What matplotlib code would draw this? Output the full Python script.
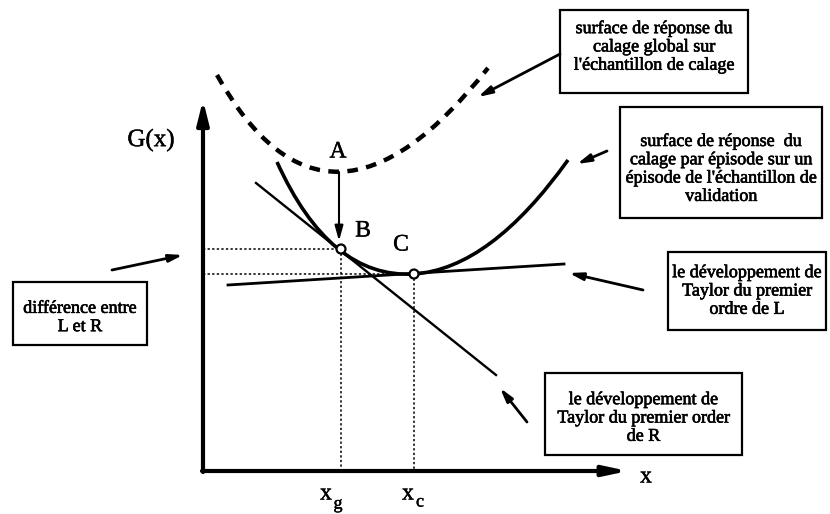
import matplotlib
matplotlib.use("Agg")
import matplotlib.pyplot as plt
from matplotlib.patches import Rectangle, Circle, PathPatch
from matplotlib.path import Path
import matplotlib.patheffects as pe

# ---- data (diagram coordinates) ----
# global-calibration response surface (dashed): quadratic Bezier control points
dashed_x = [217, 327, 488]
dashed_y = [75, 272, 68]

# episode-calibration response surface (solid): two quadratic Bezier pieces through B and C
valid_x = [277, 330, 414, 490, 568]
valid_y = [162, 279, 274, 269, 160]

tangentR_x = [256, 496]
tangentR_y = [183, 375]
tangentL_x = [228, 564]
tangentL_y = [285, 264]

point_B = (341, 249)
point_C = (414, 274)
point_A = (339, 172)

axis_origin = (203, 471)
axis_x_end = 628
axis_y_end = 100

texts_boxes = [
    "surface de réponse du\ncalage global sur\nl'échantillon de calage",
    "surface de réponse  du\ncalage par épisode sur un\népisode de l'échantillon de\nvalidation",
    "le développement de\nTaylor du premier\nordre de L",
    "le développement de\nTaylor du premier order\nde R",
    "différence entre\nL et R",
]

W, H = 830, 514
fig = plt.figure(figsize=(W / 100, H / 100), dpi=100)
ax = fig.add_axes([0, 0, 1, 1])
ax.set_xlim(0, W)
ax.set_ylim(H, 0)
ax.axis("off")

serif = "Liberation Serif"
black = "black"
thick = [pe.withStroke(linewidth=0.45, foreground=black)]

# axes arrows
ax.annotate("", xy=(axis_origin[0], axis_y_end), xytext=(axis_origin[0], axis_origin[1] + 1),
            arrowprops=dict(arrowstyle="-|>,head_length=1.4,head_width=0.35", lw=3, color=black,
                            shrinkA=0, shrinkB=0))
ax.annotate("", xy=(axis_x_end, axis_origin[1]), xytext=(axis_origin[0] - 1, axis_origin[1]),
            arrowprops=dict(arrowstyle="-|>,head_length=1.4,head_width=0.3", lw=3, color=black,
                            shrinkA=0, shrinkB=0))

# curves
dpath = Path(list(zip(dashed_x, dashed_y)), [Path.MOVETO, Path.CURVE3, Path.CURVE3])
ax.add_patch(PathPatch(dpath, facecolor="none", edgecolor=black, lw=3.2, ls=(0, (2.4, 1.9)),
                       capstyle="butt"))
vpath = Path(list(zip(valid_x, valid_y)),
             [Path.MOVETO, Path.CURVE3, Path.CURVE3, Path.CURVE3, Path.CURVE3])
ax.add_patch(PathPatch(vpath, facecolor="none", edgecolor=black, lw=2.6))

ax.plot(tangentR_x, tangentR_y, color=black, lw=1.7)
ax.plot(tangentL_x, tangentL_y, color=black, lw=2.0)

# dotted guides
for (px, py) in (point_B, point_C):
    ax.plot([axis_origin[0], px], [py, py], color=black, lw=1.1, ls=(0, (1.5, 1.5)))
    ax.plot([px, px], [py, axis_origin[1]], color=black, lw=1.1, ls=(0, (1.5, 1.5)))

# points
for (px, py) in (point_B, point_C):
    ax.add_patch(Circle((px, py), 4.5, facecolor="white", edgecolor=black, lw=1.6, zorder=5))

# A -> B arrow
ax.annotate("", xy=(point_A[0], point_B[1] - 8), xytext=point_A,
            arrowprops=dict(arrowstyle="-|>,head_length=0.9,head_width=0.25", lw=1.5, color=black,
                            shrinkA=0, shrinkB=0))

lab = dict(family=serif, ha="center", va="center", path_effects=[pe.withStroke(linewidth=0.3, foreground=black)])
ax.text(338, 152, "A", fontsize=17, **lab)
ax.text(363, 231, "B", fontsize=17, **lab)
ax.text(401, 245, "C", fontsize=17, **lab)
ax.text(151, 140, "G(x)", fontsize=18, **lab)
ax.text(646, 477, "x", fontsize=17, **lab)
ax.text(326, 494, "x", fontsize=17, **lab)
ax.text(338, 504, "g", fontsize=13, **lab)
ax.text(408, 494, "x", fontsize=17, **lab)
ax.text(420, 502, "c", fontsize=13, **lab)

# boxes: (x0, y0, x1, y1, text vertical offset)
boxes = [
    (560, 10, 748, 93, -5),
    (620, 107, 822, 218, 6),
    (668, 252, 826, 330, 0),
    (545, 373, 742, 455, 4),
    (13, 282, 147, 345, 4),
]
for (x0, y0, x1, y1, dy), t in zip(boxes, texts_boxes):
    ax.add_patch(Rectangle((x0, y0), x1 - x0, y1 - y0, facecolor="white", edgecolor=black, lw=1.6))
    ax.text((x0 + x1) / 2, (y0 + y1) / 2 + dy, t, fontsize=13, family=serif, ha="center", va="center",
            linespacing=1.1, path_effects=thick)

# pointer arrows
arrows = [
    ((560, 54), (478, 97)),
    ((607, 151), (577, 164)),
    ((643, 290), (569, 273)),
    ((527, 422), (500, 388)),
    ((112, 270), (183, 255)),
]
for start, end in arrows:
    ax.annotate("", xy=end, xytext=start,
                arrowprops=dict(arrowstyle="-|>,head_length=0.8,head_width=0.22", lw=2, color=black,
                                shrinkA=0, shrinkB=0))

fig.savefig("out.png", dpi=100)
